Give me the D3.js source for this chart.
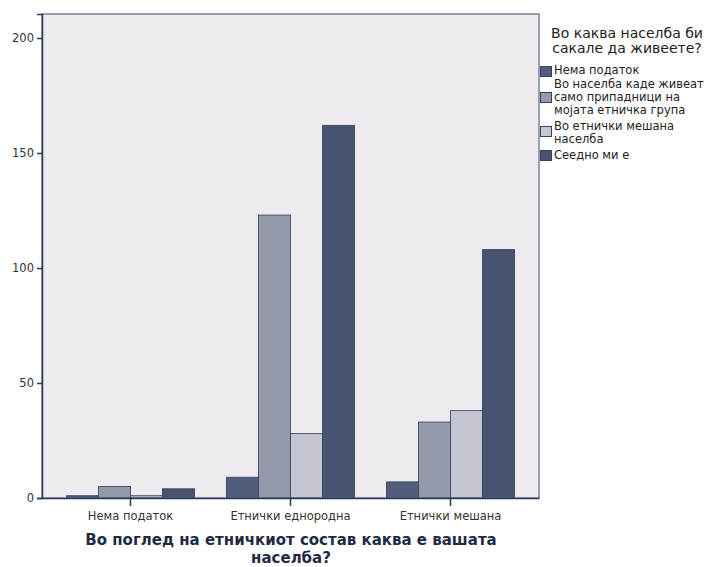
<!DOCTYPE html>
<html><head><meta charset="utf-8">
<script src="https://cdn.jsdelivr.net/npm/d3@7"></script>
<style>body{margin:0;background:#fff}svg{display:block}text{font-family:"DejaVu Sans",Verdana,sans-serif}</style>
</head><body>
<script>
const categories = ["Нема податок", "Етнички еднородна", "Етнички мешана"];
const seriesNames = ["Нема податок", "Во населба каде живеат само припадници на мојата етничка група", "Во етнички мешана населба", "Сеедно ми е"];
const seriesLegendLines = [["Нема податок"], ["Во населба каде живеат", "само припадници на", "мојата етничка група"], ["Во етнички мешана", "населба"], ["Сеедно ми е"]];
const seriesColors = ["#525c7b", "#959aab", "#c6c6d3", "#48546f"];
const s1 = [1, 9, 7];
const s2 = [5, 123, 33];
const s3 = [1, 28, 38];
const s4 = [4, 162, 108];
const yTicks = [0, 50, 100, 150, 200];
const xTitle = ["Во поглед на етничкиот состав каква е вашата", "населба?"];
const legendTitle = ["Во каква населба би", "сакале да живеете?"];

const values = [s1, s2, s3, s4];
const W = 708, H = 567;
const L = 42, R = 539, T = 14, B = 498;
const svg = d3.select("body").append("svg").attr("width", W).attr("height", H);

svg.append("rect").attr("x", L).attr("y", T).attr("width", R - L).attr("height", B - T).attr("fill", "#eeebf0");

const y = d3.scaleLinear().domain([0, 200 * (B - T) / 460]).range([B, T]);
const x0 = d3.scaleBand().domain(categories).range([L, R]).paddingInner(0.2).paddingOuter(0.153);
const x1 = d3.scaleBand().domain(d3.range(4)).range([0, x0.bandwidth()]);

const axisColor = "#2c3a58";

categories.forEach((c, ci) => {
  values.forEach((s, si) => {
    svg.append("rect")
      .attr("x", x0(c) + x1(si))
      .attr("y", y(s[ci]))
      .attr("width", x1.bandwidth())
      .attr("height", y(0) - y(s[ci]))
      .attr("fill", seriesColors[si])
      .attr("stroke", "#33415f").attr("stroke-width", 1).attr("stroke-opacity", 0.85);
  });
});

// frame
svg.append("rect").attr("x", L).attr("y", T).attr("width", R - L).attr("height", B - T)
  .attr("fill", "none").attr("stroke", "#5d6580").attr("stroke-width", 1.2);

// y axis
const ya = svg.append("g").attr("transform", `translate(${L},0)`)
  .call(d3.axisLeft(y).tickValues(yTicks).tickSize(5).tickPadding(3));
ya.select(".domain").attr("stroke", axisColor).attr("stroke-width", 1.5);
ya.selectAll(".tick line").attr("stroke", axisColor).attr("stroke-width", 1.5);
ya.selectAll(".tick text").attr("fill", "#333").style("font-size", "11.5px").style("font-family", "DejaVu Sans");

// x axis
const xa = svg.append("g").attr("transform", `translate(0,${B})`)
  .call(d3.axisBottom(x0).tickSize(8).tickPadding(6).tickSizeOuter(0));
xa.select(".domain").attr("stroke", axisColor).attr("stroke-width", 1.5);
xa.selectAll(".tick line").attr("stroke", axisColor).attr("stroke-width", 1.5);
xa.selectAll(".tick text").attr("fill", "#333").style("font-size", "11.5px").style("font-family", "DejaVu Sans");

// x title
const xt = svg.append("text").attr("x", 291).attr("y", 545).attr("text-anchor", "middle")
  .attr("fill", "#1f2a44").style("font-size", "15px").style("font-weight", "bold");
xTitle.forEach((t, i) => xt.append("tspan").attr("x", 291).attr("dy", i ? 17.5 : 0).text(t));

// legend
const lt = svg.append("text").attr("x", 627).attr("y", 38).attr("text-anchor", "middle")
  .attr("fill", "#222").style("font-size", "14px");
legendTitle.forEach((t, i) => lt.append("tspan").attr("x", 627).attr("dy", i ? 15 : 0).text(t));

const swY = [66, 92, 126, 150];
const txtY = [[74], [88, 101, 114], [130, 143], [159]];
seriesLegendLines.forEach((lines, i) => {
  svg.append("rect").attr("x", 540.5).attr("y", swY[i] + 0.5).attr("width", 11).attr("height", 10)
    .attr("fill", seriesColors[i]).attr("stroke", "#33415f").attr("stroke-width", 1);
  lines.forEach((ln, j) => {
    svg.append("text").attr("x", 554).attr("y", txtY[i][j]).attr("fill", "#222")
      .style("font-size", "11.5px").text(ln);
  });
});
</script>
</body></html>
